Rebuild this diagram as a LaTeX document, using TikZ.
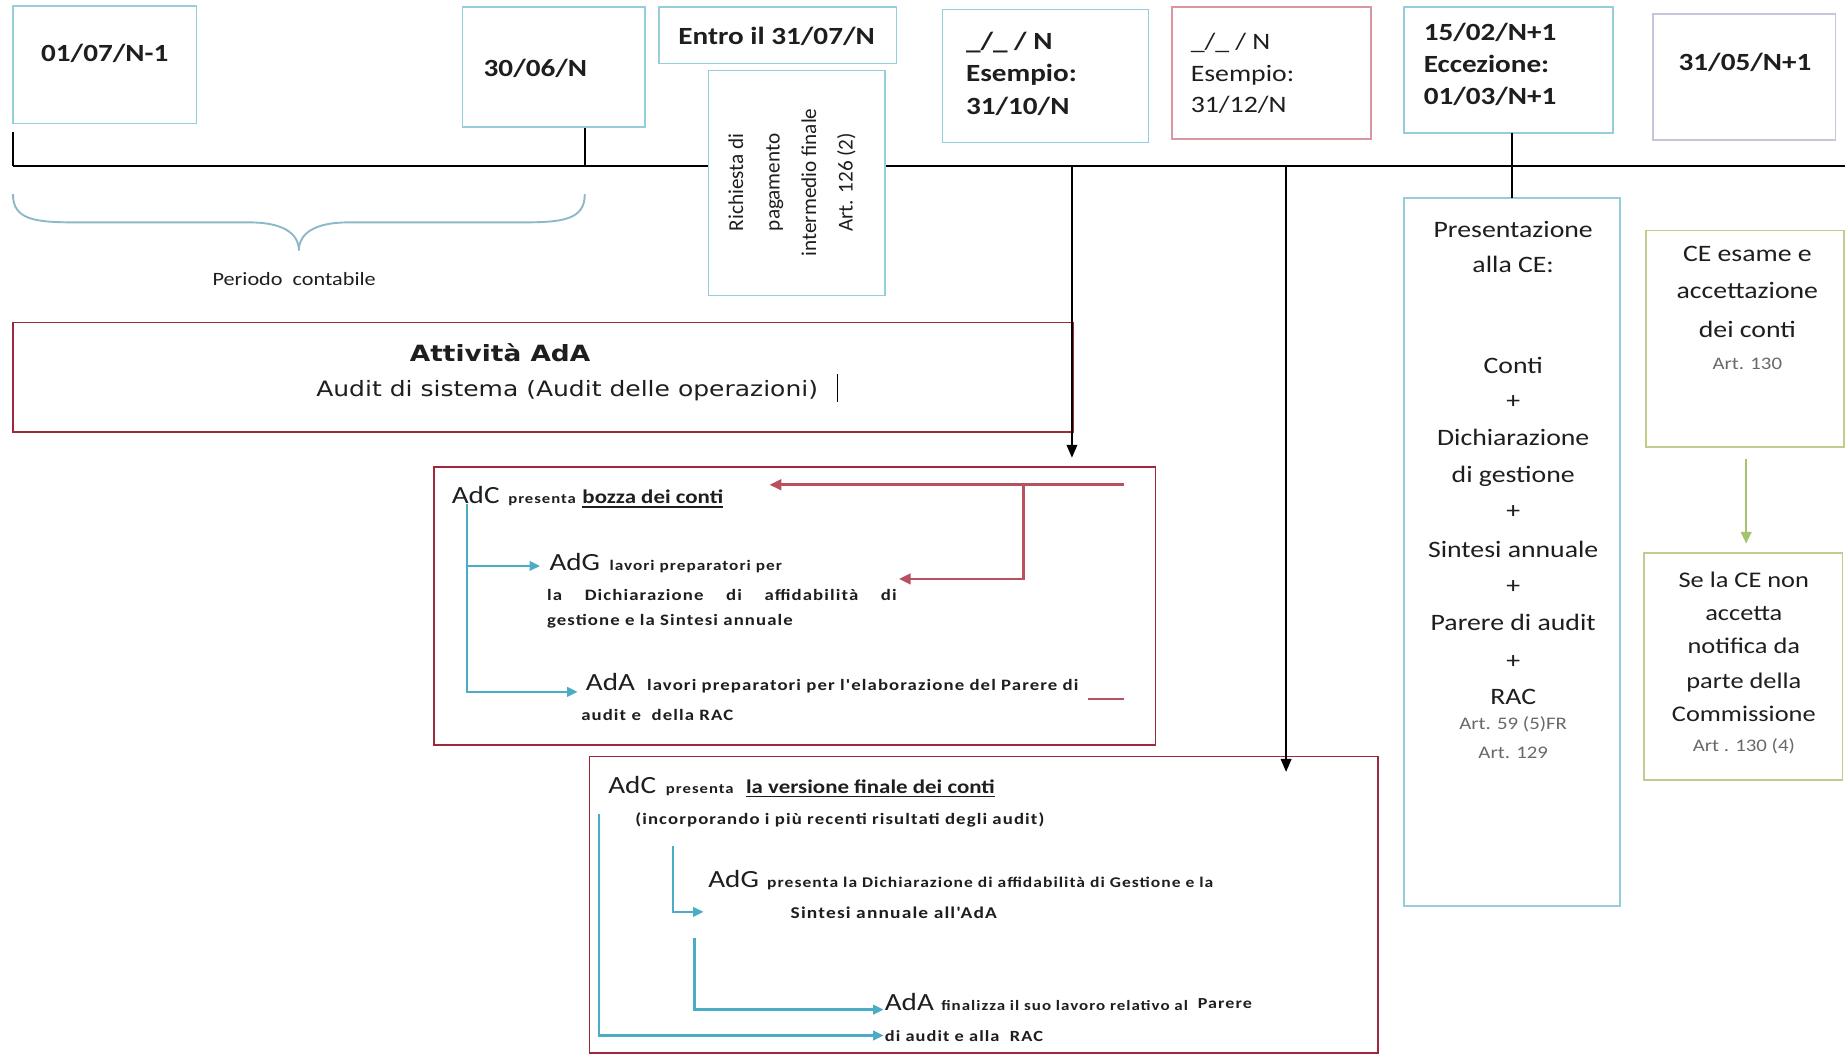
\documentclass[tikz,border=0pt]{standalone}
\usepackage{fontspec}
\setmainfont{Carlito}[FakeStretch=1.18]
\newfontfamily\smallsp{Carlito}[FakeStretch=1.18,LetterSpace=7]
\newfontfamily\verd{DejaVu Sans}[FakeStretch=1.18]
\newfontfamily\rotf{Carlito}
\usetikzlibrary{arrows.meta,calc}
\definecolor{boxblue}{RGB}{150,205,218}
\definecolor{boxred}{RGB}{160,40,60}
\definecolor{boxpink}{RGB}{215,150,160}
\definecolor{boxlav}{RGB}{200,196,220}
\definecolor{boxgreen}{RGB}{190,205,140}
\definecolor{arrblue}{RGB}{75,172,198}
\definecolor{arrred}{RGB}{185,80,95}
\definecolor{arrgreen}{RGB}{165,195,110}
\definecolor{bracecol}{RGB}{140,185,200}
\definecolor{txt}{RGB}{30,30,30}
\definecolor{arttxt}{RGB}{105,105,105}
\newcommand\fsz[1]{\fontsize{#1}{#1}\selectfont}
\newcommand\sbf[1]{\smallsp\bfseries\fontsize{#1}{#1}\selectfont}
\newcommand\bx[6]{\node[bxs, draw=#2, minimum width={(#5-#3)*1pt}, minimum height={(#6-#4)*1pt}, anchor=north west] (#1) at (#3,#4) {};}
\begin{document}
\begin{tikzpicture}[x=1pt,y=-1pt,
  bxs/.style={line width=1.4pt, inner sep=0pt, outer sep=0pt, fill=white},
  tx/.style={inner sep=0pt, outer sep=0pt, text=txt},
  date/.style={tx, font=\fsz{21}\bfseries},
  rt/.style={tx, anchor=base, font=\fsz{20}},
  art/.style={inner sep=0pt, anchor=base, text=arttxt, font=\fsz{15}},
  blk/.style={line width=1.6pt, black},
  blkarr/.style={blk, -{Triangle[length=11pt,width=9pt]}},
  bline/.style={line width=2.2pt, arrblue, -{Triangle[length=9pt,width=8pt]}},
  rline/.style={line width=2.2pt, arrred},
  rarr/.style={rline, -{Triangle[length=10pt,width=9pt]}},
  ul/.style={line width=1.3pt, txt}]
\useasboundingbox (0,0) rectangle (1568,897);
\clip (0,0) rectangle (1568,897);
\fill[white] (0,0) rectangle (1568,897);

% timeline
\coordinate (tl0) at (11,141);
\coordinate (tl1) at (1568,141);
\draw[line width=2pt] (tl0) -- (tl1);
\coordinate (tk1a) at (11,112);
\coordinate (tk2a) at (497,108);
\coordinate (tk2b) at (497,141);
\draw[blk] (tk1a) -- (tl0);
\draw[blk] (tk2a) -- (tk2b);

% top boxes
\bx{b1}{boxblue}{11}{5}{167}{105}
\bx{b2}{boxblue}{393}{6}{548}{108}
\bx{b3}{boxblue}{560}{6}{762}{54}
\bx{b4}{boxblue}{602}{60}{752}{251}
\bx{b5}{boxblue}{801}{8}{976}{121}
\bx{b6}{boxpink}{996}{6}{1165}{118}
\bx{b7}{boxblue}{1193}{6}{1371}{113}
\bx{b8}{boxlav}{1405}{12}{1560}{119}

\node[date, anchor=base] (d1) at (89,52) {01/07/N-1};
\node[date, anchor=base] (d2) at (455,65) {30/06/N};
\node[date, anchor=base] (d3) at (660,38) {Entro il 31/07/N};
\node[tx, rotate=90, align=center, font=\rotf\fontsize{18}{31}\selectfont] (b4t) at (673,155) {Richiesta di\\pagamento\\intermedio finale\\Art. 126 (2)};
\node[date, anchor=base west] (d5a) at (821,42) {\_/\_ / N};
\node[date, anchor=base west] (d5b) at (821,69) {Esempio:};
\node[date, anchor=base west] (d5c) at (821,97) {31/10/N};
\node[tx, anchor=base west, font=\fsz{20}] (d6a) at (1012,42) {\_/\_ / N};
\node[tx, anchor=base west, font=\fsz{20}] (d6b) at (1012,69) {Esempio:};
\node[tx, anchor=base west, font=\fsz{20}] (d6c) at (1012,96) {31/12/N};
\node[date, anchor=base west] (d7a) at (1210,34) {15/02/N+1};
\node[date, anchor=base west] (d7b) at (1210,62) {Eccezione:};
\node[date, anchor=base west] (d7c) at (1210,89) {01/03/N+1};
\node[date, anchor=base] (d8) at (1483,60) {31/05/N+1};

% brace
\coordinate (brL) at (11,165);
\coordinate (brT) at (254,213);
\coordinate (brR) at (497,165);
\draw[bracecol, line width=1.6pt] (brL) .. controls (11,187) and (30,189) .. (65,189) -- (212,189) .. controls (240,189) and (254,198) .. (brT) .. controls (254,198) and (268,189) .. (296,189) -- (443,189) .. controls (478,189) and (497,187) .. (brR);
\node[tx, anchor=base, font=\fsz{16}] (per) at (250,243) {Periodo\ \ contabile};

% Attivita box
\bx{att}{boxred}{11}{274}{912}{367}
\node[tx, anchor=base, font=\verd\bfseries\fsz{19}] (atit) at (425,307) {Attività AdA};
\node[tx, anchor=base, font=\verd\fsz{18}] (asub) at (482,337) {Audit di sistema (Audit delle operazioni)};
\coordinate (cur1) at (712,318);
\coordinate (cur2) at (712,342);
\draw[line width=1pt] (cur1) -- (cur2);

% box 2
\bx{bx2}{boxred}{369}{397}{982}{633}
\node[tx, anchor=base west, font=\fsz{21}] (adc1) at (384,428) {AdC};
\node[tx, anchor=base west, font=\sbf{12}] (pr1) at (432,428) {presenta};
\node[tx, anchor=base west, font=\bfseries\fsz{16.5}] (bozza) at (495,428) {bozza dei conti};
\draw[ul] ($(bozza.base west)+(0,3)$) -- ($(bozza.base east)+(0,3)$);
\node[tx, anchor=base west, font=\fsz{21}] (adg1) at (467,485) {AdG};
\node[tx, anchor=base west, font=\sbf{12.4}] (lp1) at (518,485) {lavori preparatori per};
\node[tx, anchor=base west, font=\sbf{13.5}] (dic1) at (465,510) {\makebox[297pt][s]{la\hfill Dichiarazione\hfill di\hfill affidabilità\hfill di}};
\node[tx, anchor=base west, font=\sbf{13.5}] (ges1) at (465,532) {gestione e la Sintesi annuale};
\node[tx, anchor=base west, font=\fsz{21}] (ada1) at (498,587) {AdA};
\node[tx, anchor=base west, font=\sbf{13.5}] (lp2) at (550,587) {lavori preparatori per l'elaborazione del Parere di};
\node[tx, anchor=base west, font=\sbf{13.5}] (aud1) at (494,612) {audit e\ \ della RAC};

\coordinate (v2a) at (397,428);
\coordinate (v2m) at (397,481);
\coordinate (v2b) at (397,588);
\coordinate (adgin) at (459,481);
\coordinate (adain) at (491,588);
\draw[bline] (v2a) -- (v2b) -- (adain);
\draw[bline] (v2m) -- (adgin);

\coordinate (r1) at (955,412);
\coordinate (r1t) at (654,412);
\coordinate (r2) at (870,412);
\coordinate (r2b) at (870,492);
\coordinate (r2t) at (764,492);
\draw[rarr] (r1) -- (r1t);
\draw[rarr] (r2) -- (r2b) -- (r2t);
\coordinate (rd1) at (925,594);
\coordinate (rd2) at (955,594);
\draw[rline] (rd1) -- (rd2);

% box 3
\bx{bx3}{boxred}{501}{643}{1171}{895}
\node[tx, anchor=base west, font=\fsz{21}] (adc2) at (517,674) {AdC};
\node[tx, anchor=base west, font=\sbf{12}] (pr2) at (566,674) {presenta};
\node[tx, anchor=base west, font=\bfseries\fsz{16.5}] (vers) at (634,674) {la versione finale dei conti};
\draw[ul] ($(vers.base west)+(0,3)$) -- ($(vers.base east)+(0,3)$);
\node[tx, anchor=base west, font=\sbf{13.5}] (inc) at (540,701) {(incorporando i più recenti risultati degli audit)};
\node[tx, anchor=base west, font=\fsz{21}] (adg2) at (602,754) {AdG};
\node[tx, anchor=base west, font=\sbf{12.6}] (pr3) at (652,754) {presenta la Dichiarazione di affidabilità di Gestione e la};
\node[tx, anchor=base west, font=\sbf{14}] (sin2) at (672,781) {Sintesi annuale all'AdA};
\node[tx, anchor=base west, font=\fsz{21}] (ada2) at (752,859) {AdA};
\node[tx, anchor=base west, font=\sbf{12.2}] (fin) at (800,859) {finalizza il suo lavoro relativo al};
\node[tx, anchor=base west, font=\sbf{13}] (par) at (1018,857) {Parere};
\node[tx, anchor=base west, font=\sbf{13.2}] (dia) at (752,885) {di audit e alla\ \ RAC};

\coordinate (w1a) at (509,692);
\coordinate (w1b) at (509,880);
\coordinate (w1t) at (751,880);
\coordinate (w2a) at (572,719);
\coordinate (w2b) at (572,775);
\coordinate (w2t) at (598,775);
\coordinate (w3a) at (590,797);
\coordinate (w3b) at (590,858);
\coordinate (w3t) at (751,858);
\draw[bline] (w1a) -- (w1b) -- (w1t);
\draw[bline] (w2a) -- (w2b) -- (w2t);
\draw[bline] (w3a) -- (w3b) -- (w3t);

% black connectors from timeline
\coordinate (tA) at (911,141);
\coordinate (tAe) at (911,389);
\coordinate (tB) at (1093,141);
\coordinate (tBe) at (1093,656);
\draw[blkarr] (tA) -- (tAe);
\draw[blkarr] (tB) -- (tBe);

% right column
\bx{pres}{boxblue}{1193}{168}{1377}{770}
\draw[blk] (pres.north |- b7.south) -- (pres.north);
\node[rt] (p1) at (1286,202) {Presentazione};
\node[rt] (p2) at (1286,232) {alla CE:};
\node[rt] (p3) at (1286,317) {Conti};
\node[rt] (p4) at (1286,347) {+};
\node[rt] (p5) at (1286,379) {Dichiarazione};
\node[rt] (p6) at (1286,410) {di gestione};
\node[rt] (p7) at (1286,441) {+};
\node[rt] (p8) at (1286,474) {Sintesi annuale};
\node[rt] (p9) at (1286,504) {+};
\node[rt] (p10) at (1286,536) {Parere di audit};
\node[rt] (p11) at (1286,568) {+};
\node[rt] (p12) at (1286,599) {RAC};
\node[art] (p13) at (1286,620) {Art. 59 (5)FR};
\node[art] (p14) at (1286,645) {Art. 129};

\bx{ce}{boxgreen}{1399}{196}{1567}{380}
\node[rt] (c1) at (1485,222) {CE esame e};
\node[rt] (c2) at (1485,254) {accettazione};
\node[rt] (c3) at (1485,287) {dei conti};
\node[art] (c4) at (1485,314) {Art. 130};

\bx{se}{boxgreen}{1397}{470}{1566}{663}
\node[rt, font=\fsz{19}] (s1) at (1482,499) {Se la CE non};
\node[rt, font=\fsz{19}] (s2) at (1482,527) {accetta};
\node[rt, font=\fsz{19}] (s3) at (1482,555) {notifica da};
\node[rt, font=\fsz{19}] (s4) at (1482,585) {parte della};
\node[rt, font=\fsz{19}] (s5) at (1482,613) {Commissione};
\node[art] (s6) at (1482,639) {Art . 130 (4)};

\coordinate (g1) at (1484,390);
\coordinate (g2) at (1484,462);
\draw[line width=2pt, arrgreen, -{Triangle[length=10pt,width=9pt]}] (g1) -- (g2);
\end{tikzpicture}
\end{document}
